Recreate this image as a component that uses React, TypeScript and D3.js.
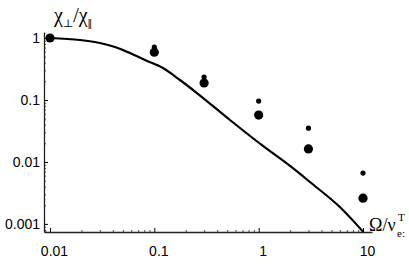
import * as d3 from 'd3';
import {useEffect, useRef} from 'react';

// solid curve (theory)
const curveX = [0.01, 0.0194, 0.0301, 0.042, 0.0584, 0.0814, 0.121, 0.176, 0.256, 0.531, 1.1, 2.0, 3.1, 6.0, 10];
const curveY = [1, 0.928, 0.83, 0.716, 0.573, 0.441, 0.328, 0.21, 0.1295, 0.0475, 0.0181, 0.0086, 0.00474, 0.00187, 0.00075];

// measured points, two series
const pointX = [0.01, 0.1, 0.3, 1, 3, 10];
const bigY = [1, 0.59, 0.188, 0.057, 0.0162, 0.0026];
const smallY = [1, 0.716, 0.235, 0.096, 0.035, 0.0066];

const xMajor = [0.01, 0.1, 1, 10];
const xMajorLabels = ['0.01', '0.1', '1', '10'];
const yMajor = [1, 0.1, 0.01, 0.001];
const yMajorLabels = ['1', '0.1', '0.01', '0.001'];

const draw = (node) => {
  d3.select(node).selectAll('*').remove();
  const svg = d3.select(node);

  const left = 44;
  const right = 372;
  const top = 32;
  const bottom = 232;

  const x = d3.scaleLog().domain([0.00876, 12.2]).range([left, right]);
  const y = d3.scaleLog().domain([0.00074, 1.25]).range([bottom, top]);

  const minorX = [];
  [0.001, 0.01, 0.1, 1, 10].forEach(d => {
    for (let k = 2; k <= 9; k++) {
      const v = d * k;
      if (v > x.domain()[0] && v < x.domain()[1]) minorX.push(v);
    }
  });
  const minorY = [];
  [0.0001, 0.001, 0.01, 0.1, 1].forEach(d => {
    for (let k = 2; k <= 9; k++) {
      const v = d * k;
      if (v > y.domain()[0] && v < y.domain()[1]) minorY.push(v);
    }
  });

  const font = '"Liberation Sans", Arial, sans-serif';

  // x axis
  svg.append('g')
    .attr('transform', `translate(0, ${bottom})`)
    .call(d3.axisBottom(x).tickValues(minorX).tickSize(-2).tickSizeOuter(0).tickFormat(() => ''))
    .call(g => g.select('.domain').remove())
    .selectAll('line').attr('stroke', '#555');

  const xa = svg.append('g')
    .attr('transform', `translate(0, ${bottom})`)
    .call(d3.axisBottom(x).tickValues(xMajor).tickSize(-4).tickSizeOuter(0).tickPadding(14)
      .tickFormat((d, i) => xMajorLabels[i]));
  xa.select('.domain').attr('stroke', '#222').attr('stroke-width', 1.3);
  xa.selectAll('text').attr('font-family', font).attr('font-size', 14).attr('fill', '#000').attr('dx', 4);

  // y axis
  svg.append('g')
    .attr('transform', `translate(${left}, 0)`)
    .call(d3.axisLeft(y).tickValues(minorY).tickSize(-2).tickSizeOuter(0).tickFormat(() => ''))
    .call(g => g.select('.domain').remove())
    .selectAll('line').attr('stroke', '#555');

  const ya = svg.append('g')
    .attr('transform', `translate(${left}, 0)`)
    .call(d3.axisLeft(y).tickValues(yMajor).tickSize(-4).tickSizeOuter(0).tickPadding(4)
      .tickFormat((d, i) => yMajorLabels[i]));
  ya.select('.domain').attr('stroke', '#222').attr('stroke-width', 1.3);
  ya.selectAll('text').attr('font-family', font).attr('font-size', 14).attr('fill', '#000');

  // curve
  const line = d3.line()
    .x(d => x(d[0]))
    .y(d => y(d[1]))
    .curve(d3.curveMonotoneX);
  svg.append('path')
    .datum(curveX.map((v, i) => [v, curveY[i]]))
    .attr('d', line)
    .attr('fill', 'none')
    .attr('stroke', '#000')
    .attr('stroke-width', 2.2);

  // points
  svg.append('g')
    .selectAll('circle')
    .data(pointX.map((v, i) => [v, smallY[i]]))
    .enter()
    .append('circle')
    .attr('cx', d => x(d[0]))
    .attr('cy', d => y(d[1]))
    .attr('r', 2.6)
    .attr('fill', '#000');

  svg.append('g')
    .selectAll('circle')
    .data(pointX.map((v, i) => [v, bigY[i]]))
    .enter()
    .append('circle')
    .attr('cx', d => x(d[0]))
    .attr('cy', d => y(d[1]))
    .attr('r', 4.6)
    .attr('fill', '#000');

  const serif = '"Liberation Serif", "DejaVu Serif", serif';

  // y title
  const yt = svg.append('text')
    .attr('x', 54)
    .attr('y', 22)
    .attr('font-family', serif)
    .attr('font-size', 20)
    .attr('fill', '#000');
  yt.append('tspan').text('χ');
  yt.append('tspan').attr('font-size', 11).attr('dy', 5).text('⊥');
  yt.append('tspan').attr('dy', -5).text('/χ');
  yt.append('tspan')
    .attr('font-family', font)
    .attr('font-size', 10)
    .attr('letter-spacing', -1)
    .attr('dy', 5)
    .text('||');

  // x title
  const xt = svg.append('text')
    .attr('x', 369)
    .attr('y', 231)
    .attr('font-family', serif)
    .attr('font-size', 18)
    .attr('fill', '#000');
  xt.append('tspan').text('Ω/ν');
  const xs = svg.append('text')
    .attr('font-family', serif)
    .attr('font-size', 11)
    .attr('fill', '#000');
  xs.append('tspan').attr('x', 398).attr('y', 221).text('T');
  xs.append('tspan').attr('x', 397).attr('y', 237).text('e:');
};

export default function App() {
  const ref = useRef(null);
  useEffect(() => {
    draw(ref.current);
  }, []);
  return (
    <svg
      ref={ref}
      width={409}
      height={265}
      style={{position: 'absolute', left: 0, top: 0, background: '#fff'}}
    />
  );
}
